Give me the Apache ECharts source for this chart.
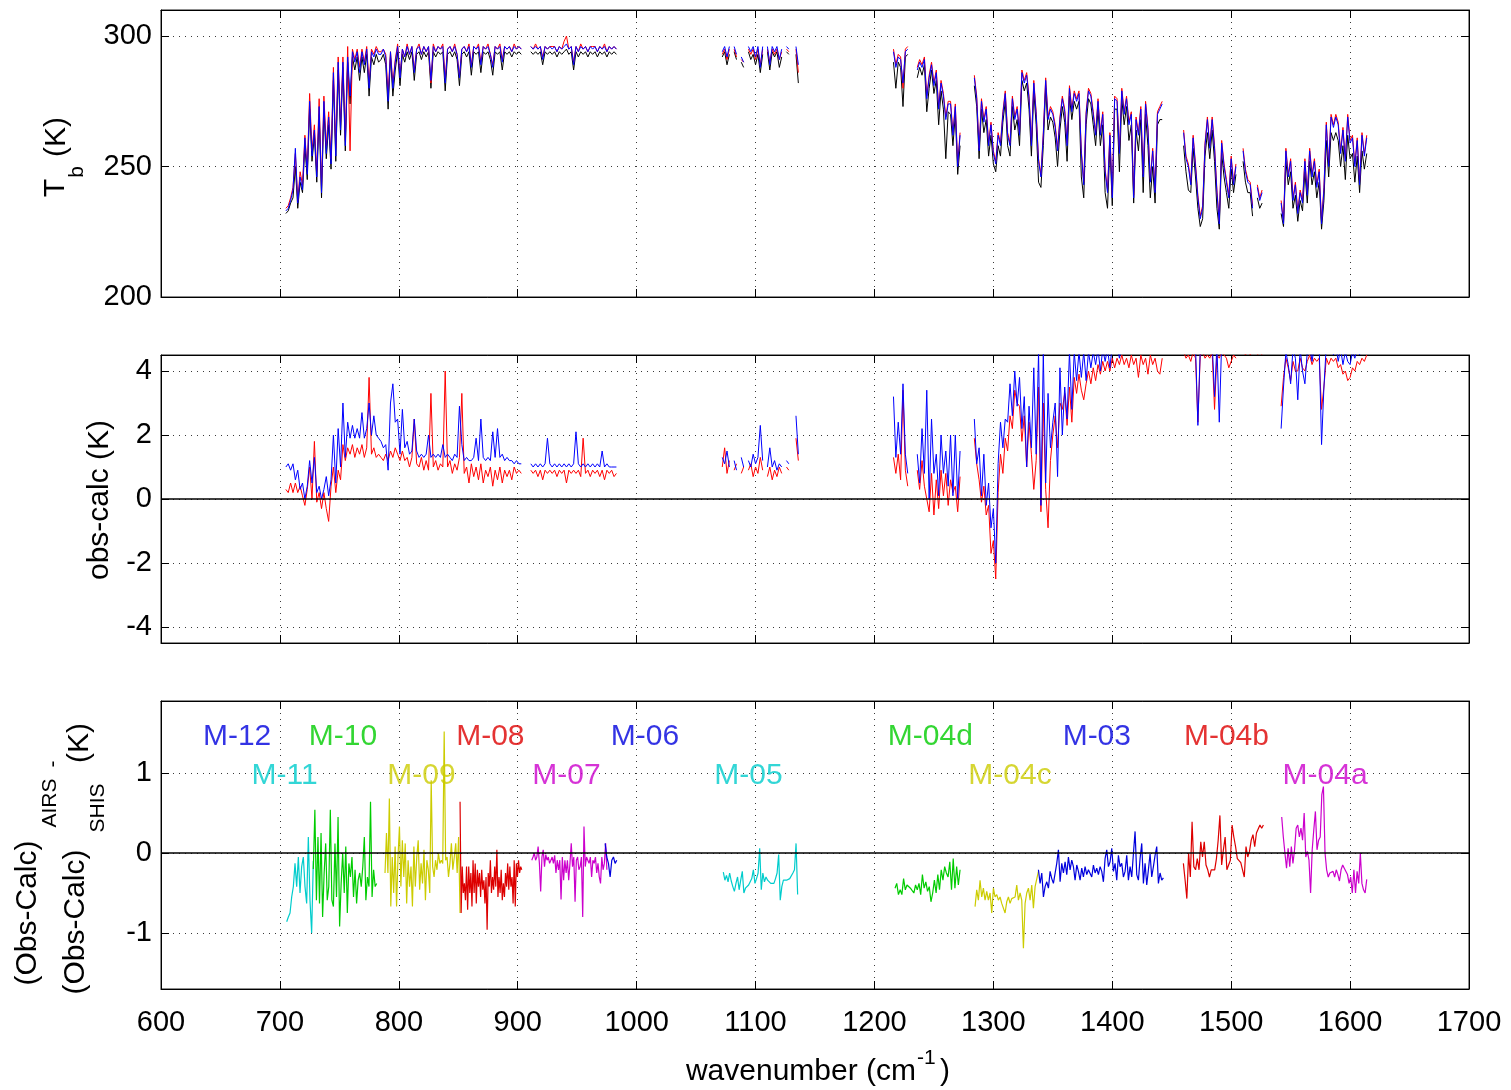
<!DOCTYPE html>
<html><head><meta charset="utf-8">
<script src="https://cdn.jsdelivr.net/npm/echarts@6/dist/echarts.min.js"></script>
<style>html,body{margin:0;padding:0;background:#fff}#c{width:1511px;height:1090px}</style>
</head><body><div id="c"></div>
<script>
// ---------- DATA ----------
// spectral segments (panels 1 and 2): start wavenumber of each segment, sampling step 2 cm-1
const specStarts = [705, 911, 1070, 1216, 1460, 1542];
const specStep = 2;

// Panel 1: brightness temperature (K)
const tbBlue = [
 [233,234,237,241,257,236,246,241,261,247, 275,254,264,246,273,240,275,255,269,251, 286,254,290,264,290,258,292,277,294,290, 294,286,294,289,295,280,294,292,295,293, 293,295,292,275,294,280,290,296,284,295, 292,296,293,296,286,295,296,293,296,294, 296,283,296,294,296,295,296,282,295,296, 294,296,293,284,295,296,294,296,288,296, 295,296,289,296,295,296,293,288,296,295, 296,290,296,295,296,294,296,295,296,295],
 [296,295,296,295,296,291,296,295,296,295, 296,294,296,295,296,297,295,296,289,296, 294,296,295,296,294,296,295,296,294,296, 295,296,294,296,295,296,295],
 [null,294,296,292,296,null,296,293,null,292,290,null,296,294,296,292,296,288,296,null,296,289,296,294,296,291,295,null,296,295,null,null,296,289],
 [294,288,292,291,282,294,295,null,null,null, 287,290,288,291,276,284,289,281,286,272, 282,277,268,274,274,262,273,250,262,null, null,null,null,null,284,276,256,275,267,272, 258,266,255,251,262,258,270,278,262,258, 276,268,272,262,286,282,285,276,258,282, 270,252,246,262,283,268,272,270,265,256, 268,276,271,258,280,271,278,275,278,255, 243,270,279,277,270,262,275,262,270,248, 240,262,238,276,275,255,279,270,276,266, 270,238,268,262,272,246,274,264,244,256, 240,270,272,274],
 [263,253,250,243,261,250,238,230, 234,258,268,257,268,257,240,228,259,250, 244,238,253,243,250,null,null,256,248,244, 243,234,null,242,237,240],
 [236,228,256,246,252,237,243, 232,240,236,252,239,256,246,252,242,248, 228,241,266,250,269,265,269,266,255,264, 252,269,259,261,250,260,243,262,254,261]
];
const tbRed = [
 [234,235,238,242,255,237,248,243,262,249, 278,256,266,248,276,242,277,258,271,253, 288,257,292,266,292,260,296,256,295,291, 295,288,295,290,296,282,295,293,296,294, 294,295,293,278,294,282,291,297,285,295, 292,297,293,296,287,295,297,293,296,294, 296,282,297,294,296,295,297,284,295,296, 294,297,293,285,295,296,294,297,289,296, 295,297,290,296,295,297,293,289,296,295, 297,291,296,295,296,294,297,295,296,295],
 [296,295,297,295,296,292,296,295,296,296, 296,294,296,295,298,300,295,296,290,296, 294,297,295,296,294,296,296,296,294,296, 295,297,294,296,295,296,295],
 [null,293,295,291,295,null,295,292,null,291,290,null,295,293,295,291,295,289,295,null,295,290,295,293,295,291,294,null,295,294,null,null,295,286],
 [295,289,293,292,280,295,296,null,null,null, 288,291,289,292,277,285,290,282,287,273, 283,278,269,275,275,263,274,251,263,null, null,null,null,null,285,277,257,276,268,273, 259,267,256,252,263,259,271,279,263,259, 277,269,273,263,287,283,286,277,259,283, 271,253,247,263,284,269,273,271,266,257, 269,277,272,259,281,272,279,276,279,256, 244,271,280,278,271,263,276,263,271,249, 241,263,239,277,276,256,280,271,277,267, 271,239,269,263,273,247,275,265,245,257, 241,271,273,275],
 [264,254,251,244,262,251,239,231, 235,259,269,258,269,258,241,229,260,251, 245,239,254,244,251,null,null,257,249,245, 244,235,null,243,238,241],
 [237,229,257,247,253,238,244, 233,241,237,253,240,257,247,253,243,249, 229,242,267,251,270,266,270,267,256,265, 253,270,260,262,251,261,244,263,255,262]
];
const tbBlack = [
 [232,233,236,238,250,234,244,240,258,245, 272,252,262,244,270,238,272,253,266,249, 283,252,287,262,288,256,290,274,292,287, 292,283,292,286,293,277,292,289,293,290, 291,293,289,272,292,277,287,294,281,293, 290,294,291,294,283,293,294,291,294,292, 294,280,294,292,294,293,294,279,293,294, 292,294,291,281,293,294,292,294,285,294, 293,294,286,294,293,294,291,285,294,293, 294,287,294,293,294,292,294,293,294,293],
 [294,293,294,293,294,289,294,293,294,293, 294,292,294,293,294,295,293,294,287,294, 292,294,293,294,292,294,293,294,292,294, 293,294,292,294,293,294,293],
 [null,292,294,289,293,null,294,291,null,290,288,null,294,291,293,289,293,286,293,null,294,287,294,292,294,288,292,null,294,293,null,null,293,282],
 [290,280,290,288,273,292,293,null,null,null, 284,288,285,289,271,280,287,278,283,266, 279,272,253,271,270,258,270,247,258,null, null,null,null,null,281,273,253,272,263,268, 254,262,251,248,258,254,267,275,258,254, 273,264,268,258,283,279,282,272,254,279, 266,244,242,258,280,264,269,267,261,250, 264,273,267,252,277,268,275,272,275,246, 238,266,276,274,266,258,272,258,266,240, 234,258,235,272,272,248,276,266,273,260, 266,236,264,256,268,240,270,258,238,250, 236,266,268,268],
 [258,248,241,240,257,246,234,227, 230,254,263,253,264,252,234,226,255,246, 240,234,249,240,247,null,null,252,244,240, 240,231,null,238,234,236],
 [232,227,252,243,248,234,239, 229,237,233,248,236,252,243,248,238,244, 226,237,260,246,263,260,263,260,250,258, 245,262,253,255,244,254,240,256,249,255]
];

// Panel 2: obs-calc (K)
const ocBlue = [
 [1.0,1.1,0.9,1.1,0.6,0.9,0.3,0.5,0.0,0.4, 1.2,0.5,1.3,0.2,0.4,0.0,0.3,0.7,0.1,0.6, 2.0,0.5,2.2,1.0,3.0,1.3,2.4,1.9,2.3,1.9, 2.2,1.9,2.7,1.9,2.2,3.0,2.0,2.6,2.0,1.9, 1.8,1.6,1.7,0.9,3.0,3.6,2.4,2.5,1.4,2.8, 1.6,1.8,1.4,1.5,2.5,1.5,1.3,1.4,1.3,1.4, 2.0,1.3,1.4,1.3,1.4,1.3,1.7,1.3,1.4,1.3, 1.2,1.4,1.3,2.9,1.7,1.2,1.3,1.2,1.2,1.3, 1.9,1.2,2.5,1.3,1.2,1.3,1.2,2.1,1.3,2.2, 1.3,1.4,1.2,1.3,1.2,1.2,1.1,1.2,1.1,1.1],
 [1.1,1.0,1.1,1.0,1.1,1.0,1.1,1.9,1.1,1.0, 1.1,1.0,1.1,1.0,1.1,1.0,1.1,1.0,1.1,2.1, 1.1,1.0,1.1,1.0,1.1,1.0,1.1,1.0,1.1,1.0, 1.5,1.0,1.1,1.0,1.0,1.0,1.0],
 [null,1.3,1.1,1.5,1.0,null,1.2,0.9,null,1.3,1.0,null,1.2,1.0,1.4,1.1,1.3,2.3,1.2,null,1.0,1.6,1.0,1.2,0.9,1.1,1.0,null,1.2,1.1,null,null,2.6,1.4],
 [3.2,1.3,2.4,1.4,3.6,1.4,0.8,null,null,null, 1.4,0.5,2.2,0.8,3.4,0.0,2.5,0.8,1.4,0.1, 2.0,0.8,1.5,0.4,2.0,0.1,2.0,0.0,1.5,null, null,null,null,null,2.5,1.1,1.6,0.1,1.4,-0.2, 0.5,-0.9,-0.3,-2.0,1.1,2.4,1.6,2.5,2.4,3.6, 2.6,4.0,2.9,3.8,2.2,3.2,1.0,2.9,1.6,4.1, 1.4,4.6,-0.2,4.6,0.5,3.3,1.6,2.4,3.0,0.7, 4.1,2.0,3.5,2.5,4.6,2.8,4.6,3.7,4.6,3.8, 4.6,3.7,4.6,4.1,4.6,4.2,4.7,4.0,4.7,4.3, 4.7,4.1,4.8,4.6,4.8,4.4,4.8,4.6,4.9,4.6, 4.9,4.7,4.9,4.6,4.9,4.7,5.0,4.7,4.9,4.6, 4.9,4.7,4.9,4.6],
 [4.8,4.6,4.9,4.7,4.9,4.8,2.3,4.7, 4.9,4.7,4.9,4.8,4.9,3.2,4.8,2.4,4.9,4.8, 4.9,4.7,4.8,4.9,4.8,null,null,4.9,4.8,4.9, 4.8,4.9,null,4.8,4.9,4.8],
 [2.2,3.5,4.6,4.2,3.6,4.7,4.4, 3.1,4.7,4.0,3.6,4.6,4.8,4.3,4.8,4.7,4.8, 1.7,3.5,4.8,4.6,4.8,4.5,4.8,4.3,4.7,4.2, 4.6,4.3,4.2,4.6,4.4,4.7,4.5,4.8,4.6,4.8]
];
const ocRed = [
 [0.3,0.2,0.5,0.2,0.5,0.2,0.4,0.1,-0.2,0.3, 1.0,0.0,1.8,-0.1,0.2,-0.3,0.2,-0.3,-0.7,0.4, 1.0,0.2,0.9,0.6,1.7,1.2,1.6,1.4,1.7,1.3, 1.6,1.4,1.7,1.3,1.6,3.8,1.4,1.6,1.3,1.4, 1.3,1.2,1.4,1.2,1.5,1.3,1.6,1.4,1.2,1.5, 1.2,1.3,1.0,1.3,2.5,1.1,1.0,1.3,0.9,1.2, 0.9,3.3,1.0,1.2,0.9,1.1,1.0,4.0,1.0,1.2, 0.8,1.1,0.9,1.3,3.3,0.8,1.0,0.5,1.1,0.7, 1.0,0.6,1.1,0.5,0.9,0.7,1.0,0.4,0.9,0.6, 1.0,0.5,0.9,0.7,0.9,0.6,1.0,0.8,0.9,0.8],
 [0.9,0.8,0.9,0.7,0.9,0.6,0.9,0.8,0.9,0.8, 0.9,0.7,0.9,0.8,0.9,0.5,0.9,0.8,0.9,0.8, 0.9,0.7,1.9,0.8,0.9,0.7,0.9,0.8,0.9,0.7, 0.9,0.6,0.9,0.8,0.9,0.7,0.8],
 [null,1.0,1.6,0.8,1.2,null,0.9,1.1,null,0.8,1.0,null,0.9,1.1,0.7,1.0,0.8,1.3,0.9,null,0.7,1.0,0.6,0.9,0.7,1.0,0.8,null,1.0,0.9,null,null,1.9,1.2],
 [1.3,0.8,1.4,0.6,3.4,0.9,0.4,null,null,null, 0.9,0.3,1.2,0.4,0.0,-0.4,0.8,-0.5,0.6,-0.3, 0.9,0.1,0.8,-0.2,0.6,0.2,0.4,-0.4,0.7,null, null,null,null,null,1.9,1.1,0.6,-0.1,0.4,-0.5, -0.2,-1.7,-1.3,-2.5,0.2,1.4,0.8,1.9,1.5,2.6, 2.2,3.4,3.0,2.9,1.8,2.6,1.0,2.4,1.4,0.3, 1.2,3.5,-0.4,3.0,0.3,-0.9,1.2,2.0,2.6,1.6, 3.0,2.8,3.3,2.3,3.5,2.4,3.8,3.3,3.9,3.4, 3.1,3.6,4.0,3.6,4.1,3.7,4.2,3.9,4.3,4.0, 4.3,4.0,4.4,4.1,4.4,4.2,4.5,4.2,4.4,4.1, 4.5,4.2,4.4,3.8,4.5,4.2,4.4,3.9,4.5,4.2, 4.4,4.0,3.9,4.4],
 [4.6,4.4,4.5,4.3,4.6,4.4,2.4,4.5, 4.6,4.4,4.5,4.4,4.6,2.8,4.5,4.4,4.6,4.5, 4.4,4.1,4.3,4.5,4.4,null,null,4.6,4.5,4.6, 4.5,4.6,null,4.5,4.6,4.5],
 [2.9,3.8,4.4,4.1,3.7,4.3,4.0, 4.0,4.4,4.1,4.0,4.3,4.5,4.2,4.4,4.3,4.4, 2.8,3.5,4.4,4.2,4.4,4.3,4.4,4.1,4.2,3.9, 4.0,3.7,3.8,4.1,4.0,4.3,4.2,4.4,4.3,4.5]
];

// Panel 3: (Obs-Calc)AIRS - (Obs-Calc)SHIS per module
const mNames = ['M-11','M-10','M-09','M-08','M-07','M-06','M-05','M-04d','M-04c','M-03','M-04b','M-04a'];
const mStart = [705.7, 728.1, 788.4, 851.5, 911.8, 973.5, 1072.9, 1217.3, 1284.6, 1337.9, 1459.8, 1542.5];
const mEnd   = [728.1, 781.4, 851.5, 903.4, 975.0, 983.3, 1135.4, 1272.0, 1337.9, 1443.0, 1527.1, 1614.0];
const mValues = [
 [-0.86,-0.80,-0.75,-0.55,-0.42,-0.13,-0.42,-0.05,-0.50,-0.17,-0.05,-0.42,-0.63,0.20,-0.59,-1.00,-0.10],
 [-0.20,0.54,-0.59,0.20,-0.63,0.25,-0.80,-0.25,0.12,-0.59,-0.42,0.54,-0.59,-0.67,0.12,-0.55,0.45,-0.92,-0.38,0.00,-0.50,0.08,-0.75,-0.13,-0.30,-0.05,-0.55,-0.21,-0.63,-0.34,-0.25,-0.42,-0.17,0.20,-0.59,-0.30,-0.42,0.64,-0.55,-0.21,-0.42,-0.38],
 [-0.25,0.25,-0.25,0.68,-0.67,-0.05,-0.50,0.08,-0.67,-0.05,0.33,-0.42,0.16,-0.30,0.12,-0.63,-0.09,-0.42,-0.17,-0.67,0.08,-0.42,-0.05,0.16,-0.46,-0.13,-0.38,0.04,-0.59,-0.09,-0.21,-0.50,0.91,-0.17,-0.30,-0.09,-0.21,0.00,-0.13,-0.09,-0.13,1.52,-0.09,-0.05,-0.30,-0.13,0.12,-0.21,-0.05,0.12,-0.25,0.20,-0.75],
 [0.64,-0.75,-0.17,-0.50,-0.38,-0.59,-0.17,-0.71,-0.17,-0.50,-0.25,-0.67,-0.09,-0.50,-0.13,-0.63,-0.21,-0.42,-0.25,-0.55,-0.21,-0.46,-0.34,-0.63,-0.30,-0.96,-0.25,-0.42,-0.09,-0.50,-0.30,-0.46,-0.17,-0.42,0.04,-0.55,-0.30,-0.50,-0.21,-0.59,-0.38,-0.55,-0.25,-0.42,-0.13,-0.46,-0.17,-0.42,-0.30,-0.63,-0.09,-0.67,-0.13,-0.30,-0.09,-0.25,-0.17,-0.21],
 [-0.09,-0.05,0.00,-0.09,-0.05,0.08,-0.13,-0.48,-0.05,0.04,-0.17,-0.02,-0.09,-0.05,-0.13,-0.09,-0.05,-0.13,-0.03,-0.25,-0.09,-0.21,-0.09,-0.58,-0.05,-0.34,-0.09,-0.25,-0.09,-0.34,-0.13,0.12,-0.17,-0.05,-0.61,-0.09,-0.05,-0.21,-0.17,-0.05,-0.80,0.33,-0.17,-0.05,-0.09,-0.13,-0.05,-0.30,-0.09,-0.13,-0.05,-0.25,-0.13,-0.30,-0.38,-0.05,-0.21,-0.13,0.12,-0.21],
 [0.12,-0.05,-0.13,-0.30,-0.09,-0.05,-0.13,-0.09],
 [-0.24,-0.34,-0.28,-0.36,-0.25,-0.35,-0.42,-0.48,-0.38,-0.30,-0.46,-0.34,-0.23,-0.50,-0.44,-0.42,-0.40,-0.36,-0.32,-0.21,-0.38,-0.32,-0.25,0.06,-0.46,-0.25,-0.36,-0.30,-0.34,-0.36,-0.38,-0.36,-0.38,-0.32,-0.25,-0.02,-0.59,-0.42,-0.34,-0.36,-0.34,-0.36,-0.32,-0.30,-0.25,-0.21,0.12,-0.52],
 [-0.44,-0.38,-0.52,-0.46,-0.52,-0.32,-0.46,-0.40,-0.42,-0.44,-0.44,-0.50,-0.40,-0.46,-0.38,-0.52,-0.27,-0.44,-0.36,-0.48,-0.42,-0.61,-0.50,-0.34,-0.50,-0.27,-0.46,-0.21,-0.34,-0.17,-0.25,-0.30,-0.11,-0.46,-0.07,-0.44,-0.17,-0.40,-0.21],
 [-0.67,-0.46,-0.59,-0.34,-0.55,-0.44,-0.59,-0.48,-0.59,-0.50,-0.75,-0.44,-0.55,-0.52,-0.59,-0.55,-0.63,-0.61,-0.75,-0.61,-0.55,-0.63,-0.57,-0.59,-0.55,-0.40,-0.59,-0.50,-0.59,-1.19,-0.63,-0.50,-0.44,-0.59,-0.40,-0.69,-0.42,-0.40,-0.23],
 [-0.21,-0.38,-0.25,-0.55,-0.42,-0.36,-0.44,-0.23,-0.32,-0.38,-0.40,-0.13,0.04,-0.36,-0.13,-0.25,-0.11,-0.27,-0.05,-0.21,-0.09,-0.17,-0.34,-0.15,-0.23,-0.34,-0.19,-0.30,-0.17,-0.27,-0.21,-0.23,-0.30,-0.15,-0.25,-0.19,-0.27,-0.17,-0.23,-0.36,-0.07,0.04,-0.17,-0.11,0.06,-0.23,-0.13,-0.34,-0.03,-0.17,-0.13,-0.30,-0.23,-0.03,-0.34,-0.17,-0.30,-0.01,0.27,-0.27,-0.34,-0.07,0.12,-0.38,-0.13,-0.40,-0.21,-0.01,-0.30,-0.17,-0.03,0.08,-0.38,-0.25,-0.34,-0.31],
 [-0.13,-0.34,-0.57,0.00,-0.30,0.39,-0.17,-0.21,-0.07,-0.21,0.14,-0.05,0.14,-0.15,-0.21,-0.30,-0.21,-0.19,-0.21,-0.07,0.16,0.47,-0.15,0.04,0.20,-0.21,-0.15,-0.09,0.35,0.20,0.08,-0.07,-0.05,-0.12,-0.21,-0.30,0.08,-0.05,0.02,0.16,0.23,0.08,0.25,0.27,0.35,0.31,0.35],
 [0.45,0.20,0.00,-0.19,0.06,-0.17,0.08,-0.13,0.04,0.31,0.35,0.20,0.31,0.16,0.50,-0.05,0.02,-0.09,-0.50,0.04,0.29,0.52,0.04,0.16,0.20,0.73,0.83,0.00,-0.21,-0.30,-0.25,-0.27,-0.23,-0.30,-0.21,-0.27,-0.35,-0.21,-0.15,-0.19,-0.21,-0.27,-0.38,-0.30,-0.50,-0.21,-0.50,-0.23,-0.38,0.00,-0.38,-0.46,-0.50,-0.33]
];
const mColors = ['#00cccc','#00cc00','#cccc00','#dd0000','#cc00cc','#0000dd','#00cccc','#00cc00','#cccc00','#0000dd','#dd0000','#cc00cc'];

// module labels in panel 3
const labelText  = ['M-12','M-11','M-10','M-09','M-08','M-07','M-06','M-05','M-04d','M-04c','M-03','M-04b','M-04a'];
const labelWn    = [664, 704, 753, 819, 877, 941, 1007, 1094, 1247, 1314, 1387, 1496, 1579];
const labelVal   = [1.45, 0.96, 1.45, 0.96, 1.45, 0.96, 1.45, 0.96, 1.45, 0.96, 1.45, 1.45, 0.96];
const labelColor = ['#0000dd','#00cccc','#00cc00','#cccc00','#dd0000','#cc00cc','#0000dd','#00cccc','#00cc00','#cccc00','#0000dd','#dd0000','#cc00cc'];

// axes
const xMin = 600, xMax = 1700, xStep = 100;
const yRanges = [[200, 310], [-4.5, 4.5], [-1.7, 1.9]];
const yTickVals = [[200, 250, 300], [-4, -2, 0, 2, 4], [-1, 0, 1]];

// ---------- BUILD ----------
const F = "'Liberation Sans', Arial, Helvetica, sans-serif";
function specPoints(segs) {
  const out = [];
  segs.forEach((vals, si) => {
    vals.forEach((v, i) => out.push([specStarts[si] + i * specStep, v == null ? '-' : v]));
    out.push([specStarts[si] + vals.length * specStep, '-']);
  });
  return out;
}
function modPoints(k) {
  const v = mValues[k], n = v.length;
  return v.map((y, i) => [mStart[k] + (mEnd[k] - mStart[k]) * i / (n - 1), y]);
}

const gridDefs = [{top: 10, height: 287}, {top: 355, height: 288}, {top: 701, height: 288}];
const grid = gridDefs.map(g => ({left: 161, width: 1308, top: g.top, height: g.height,
  show: true, borderColor: '#1a1a1a', borderWidth: 1, backgroundColor: 'transparent'}));
const dotted = {show: true, lineStyle: {color: '#3a3a3a', type: [1, 5], width: 1}};
const xAxis = [], yAxis = [];
for (let g = 0; g < 3; g++) {
  xAxis.push({gridIndex: g, type: 'value', min: xMin, max: xMax, interval: xStep, position: 'bottom',
    axisLine: {show: true, onZero: false, lineStyle: {color: '#000', width: 1}},
    axisTick: {show: true, inside: true, length: 8, lineStyle: {color: '#000'}},
    axisLabel: {show: g === 2, fontSize: 29, fontFamily: F, color: '#000', margin: 19, formatter: v => String(v)},
    splitLine: dotted});
  xAxis.push({gridIndex: g, type: 'value', min: xMin, max: xMax, interval: xStep, position: 'top',
    axisLine: {show: true, onZero: false, lineStyle: {color: '#000', width: 1}},
    axisTick: {show: true, inside: true, length: 8, lineStyle: {color: '#000'}},
    axisLabel: {show: false}, splitLine: {show: false}});
  yAxis.push({gridIndex: g, type: 'value', min: yRanges[g][0], max: yRanges[g][1], position: 'left',
    axisLine: {show: true, onZero: false, lineStyle: {color: '#000', width: 1}},
    axisTick: {show: true, inside: true, length: 8, customValues: yTickVals[g], lineStyle: {color: '#000'}},
    axisLabel: {show: true, customValues: yTickVals[g], fontSize: 29, fontFamily: F, color: '#000', margin: 9, formatter: v => String(v)},
    splitLine: dotted});
  yAxis.push({gridIndex: g, type: 'value', min: yRanges[g][0], max: yRanges[g][1], position: 'right',
    axisLine: {show: true, onZero: false, lineStyle: {color: '#000', width: 1}},
    axisTick: {show: true, inside: true, length: 8, customValues: yTickVals[g], lineStyle: {color: '#000'}},
    axisLabel: {show: false}, splitLine: {show: false}});
}

function lineSeries(g, data, color, width) {
  return {type: 'line', xAxisIndex: 2 * g, yAxisIndex: 2 * g, data: data, showSymbol: false, symbol: 'none',
    connectNulls: false, clip: true, silent: true, animation: false,
    lineStyle: {color: color, width: width || 1}, itemStyle: {color: color}};
}
const zeroLine = g => ({type: 'line', xAxisIndex: 2 * g, yAxisIndex: 2 * g, data: [], silent: true, animation: false,
  markLine: {silent: true, symbol: ['none', 'none'], label: {show: false}, animation: false,
    lineStyle: {color: '#000', type: 'solid', width: 1.5}, data: [{yAxis: 0}]}});

const series = [
  lineSeries(0, specPoints(tbBlack), '#000000'),
  lineSeries(0, specPoints(tbRed), '#ff0000'),
  lineSeries(0, specPoints(tbBlue), '#0000ff'),
  lineSeries(1, specPoints(ocRed), '#ff0000'),
  lineSeries(1, specPoints(ocBlue), '#0000ff'),
  zeroLine(1)
];
mNames.forEach((n, k) => { const s = lineSeries(2, modPoints(k), mColors[k], 1.2); s.name = n; series.push(s); });
series.push(zeroLine(2));
series.push({type: 'scatter', xAxisIndex: 4, yAxisIndex: 4, symbolSize: 1, silent: true, animation: false,
  itemStyle: {color: 'rgba(0,0,0,0)'},
  data: labelText.map((t, i) => ({name: t, value: [labelWn[i], labelVal[i]],
    label: {show: true, position: 'inside', formatter: t, color: labelColor[i], fontSize: 30, fontFamily: F}}))});

const txt = (x, y, text, size, align, rot, va) => ({type: 'text', x: x, y: y, rotation: rot || 0, z: 100, silent: true,
  style: {text: text, fontSize: size, fontFamily: F, fill: '#000', align: align || 'center', verticalAlign: va || 'middle'}});
const R = Math.PI / 2;
const graphic = [
  txt(56, 188, 'T', 30, 'center', R),
  txt(77, 172, 'b', 21, 'center', R),
  txt(57, 137, '(K)', 30, 'center', R),
  txt(100, 500, 'obs-calc (K)', 30, 'center', R),
  txt(28, 913, '(Obs-Calc)', 30, 'center', R),
  txt(50, 803, 'AIRS', 21, 'center', R),
  txt(53, 764, '-', 21, 'center', R),
  txt(76, 922, '(Obs-Calc)', 30, 'center', R),
  txt(98, 808, 'SHIS', 21, 'center', R),
  txt(80, 743, '(K)', 30, 'center', R),
  txt(916, 1072, 'wavenumber (cm', 30, 'right', 0),
  txt(917, 1058, '-1', 21, 'left', 0),
  txt(940, 1072, ')', 30, 'left', 0)
];

const chart = echarts.init(document.getElementById('c'), null, {renderer: 'canvas'});
chart.setOption({animation: false, backgroundColor: '#ffffff', grid: grid, xAxis: xAxis, yAxis: yAxis, series: series, graphic: graphic});
</script></body></html>
